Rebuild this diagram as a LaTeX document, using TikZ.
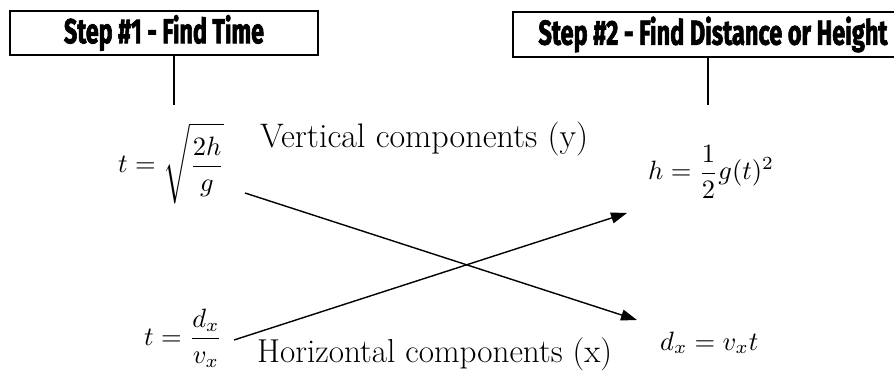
\documentclass[tikz,border=0pt]{standalone}
\usepackage{fontspec}
\newfontfamily\titlefont[BoldFeatures={FakeBold=2.5}]{Fira Sans}
\usetikzlibrary{arrows.meta}
\newcommand{\fm}[1]{\scalebox{2.65}{$\displaystyle #1$}}
\tikzset{
  titlebox/.style={draw, line width=2.6pt, inner sep=0pt},
  stem/.style={line width=2pt},
  arr/.style={line width=1.4pt, -{Triangle[length=16pt,width=11pt]}},
  formula/.style={inner sep=0pt, anchor=base west},
  label/.style={inner sep=0pt, anchor=base west, font=\fontsize{25}{28}\selectfont}
}
\begin{document}
\begin{tikzpicture}[x=1pt,y=-1pt]
\useasboundingbox (0,0) rectangle (894,379);
\clip (0,0) rectangle (894,379);
% title boxes
\node[titlebox, minimum width=308pt, minimum height=44pt] (box1) at (164,33)
  {\raisebox{1pt}{\resizebox{200pt}{28pt}{\titlefont\bfseries Step \#1 - Find Time}}};
\node[titlebox, minimum width=400pt, minimum height=45pt] (box2) at (713,34.5)
  {\raisebox{1pt}{\resizebox{349pt}{28pt}{\titlefont\bfseries Step \#2 - Find Distance or Height}}};
\coordinate (c1) at (174,105);
\coordinate (c2) at (708,105);
\draw[stem] (c1 |- box1.south) -- (c1);
\draw[stem] (c2 |- box2.south) -- (c2);
% formulas
\node[formula] (f1) at (118,173) {\fm{t=\sqrt{\frac{2h}{g}}}};
\node[formula] (f2) at (144,345) {\fm{t=\frac{d_x}{v_x}}};
\node[formula] (f3) at (648,180) {\fm{h=\frac{1}{2}g(t)^2}};
\node[formula] (f4) at (660,350) {\fm{d_x=v_xt}};
% labels
\node[label] (vl) at (260,148) {\resizebox{328pt}{!}{Vertical components (y)}};
\node[label] (hl) at (257,362) {\resizebox{355pt}{!}{Horizontal components (x)}};
% arrows
\coordinate (a1s) at (245,193);
\coordinate (a1e) at (637,320);
\coordinate (a2s) at (234,340);
\coordinate (a2e) at (627,213);
\draw[arr] (a1s) -- (a1e);
\draw[arr] (a2s) -- (a2e);
\end{tikzpicture}
\end{document}
